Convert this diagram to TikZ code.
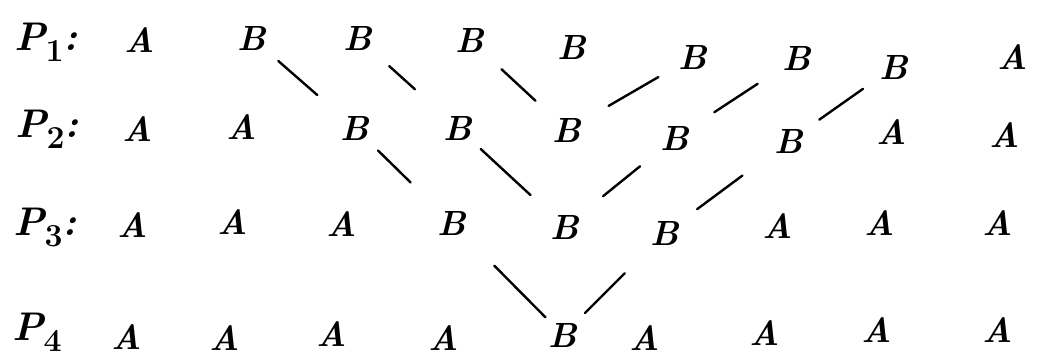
\documentclass[tikz,border=0pt]{standalone}
\usepackage{fontspec}
\newcommand{\lsub}[1]{\raisebox{-11pt}{\fontsize{32}{32}\selectfont\upshape #1}}
\begin{document}
\begin{tikzpicture}[x=1pt,y=1pt,
  ltr/.style={inner sep=0pt, font=\fontsize{35}{35}\selectfont\bfseries\itshape},
  lbl/.style={inner sep=0pt, font=\fontsize{40}{40}\selectfont\bfseries\itshape},
  conn/.style={line width=2.4pt, line cap=round}]
\useasboundingbox (0,0) rectangle (1057,-363);
% labels
\node[lbl] (p1) at (46,-42) {P\lsub{1}:};
\node[lbl] (p2) at (47,-129) {P\lsub{2}:};
\node[lbl] (p3) at (45,-227) {P\lsub{3}:};
\node[lbl] (p4) at (37,-332) {P\lsub{4}};
% row 1
\node[ltr] (r1c1) at (140,-40) {A};
\node[ltr] (r1c2) at (252,-38) {B};
\node[ltr] (r1c3) at (358,-38) {B};
\node[ltr] (r1c4) at (470,-40) {B};
\node[ltr] (r1c5) at (572,-47) {B};
\node[ltr] (r1c6) at (693,-57) {B};
\node[ltr] (r1c7) at (797,-58) {B};
\node[ltr] (r1c8) at (894,-67) {B};
\node[ltr] (r1c9) at (1013,-57) {A};
% row 2
\node[ltr] (r2c1) at (138,-129) {A};
\node[ltr] (r2c2) at (242,-127) {A};
\node[ltr] (r2c3) at (355,-128) {B};
\node[ltr] (r2c4) at (458,-128) {B};
\node[ltr] (r2c5) at (567,-130) {B};
\node[ltr] (r2c6) at (675,-138) {B};
\node[ltr] (r2c7) at (789,-141) {B};
\node[ltr] (r2c8) at (892,-132) {A};
\node[ltr] (r2c9) at (1005,-135) {A};
% row 3
\node[ltr] (r3c1) at (133,-225) {A};
\node[ltr] (r3c2) at (233,-222) {A};
\node[ltr] (r3c3) at (342,-224) {A};
\node[ltr] (r3c4) at (452,-223) {B};
\node[ltr] (r3c5) at (565,-227) {B};
\node[ltr] (r3c6) at (665,-233) {B};
\node[ltr] (r3c7) at (778,-226) {A};
\node[ltr] (r3c8) at (880,-223) {A};
\node[ltr] (r3c9) at (998,-223) {A};
% row 4
\node[ltr] (r4c1) at (127,-337) {A};
\node[ltr] (r4c2) at (225,-338) {A};
\node[ltr] (r4c3) at (332,-334) {A};
\node[ltr] (r4c4) at (444,-338) {A};
\node[ltr] (r4c5) at (563,-335) {B};
\node[ltr] (r4c6) at (645,-338) {A};
\node[ltr] (r4c7) at (765,-333) {A};
\node[ltr] (r4c8) at (877,-330) {A};
\node[ltr] (r4c9) at (998,-330) {A};
% connectors row1-row2
\draw[conn, shorten <=35pt, shorten >=50pt] (r1c2.center) -- (r2c3.center);
\draw[conn, shorten <=42pt, shorten >=58pt] (r1c3.center) -- (r2c4.center);
\draw[conn, shorten <=43pt, shorten >=43pt] (r1c4.center) -- (r2c5.center);
\draw[conn, shorten <=48pt, shorten >=40pt] (r2c5.center) -- (r1c6.center);
\draw[conn, shorten <=47pt, shorten >=47pt] (r2c6.center) -- (r1c7.center);
\draw[conn, shorten <=37pt, shorten >=38pt] (r2c7.center) -- (r1c8.center);
% row2-row3
\draw[conn, shorten <=32pt, shorten >=58pt] (r2c3.center) -- (r3c4.center);
\draw[conn, shorten <=31pt, shorten >=47pt] (r2c4.center) -- (r3c5.center);
\draw[conn, shorten <=49pt, shorten >=45pt] (r3c5.center) -- (r2c6.center);
\draw[conn, shorten <=40pt, shorten >=58pt] (r3c6.center) -- (r2c7.center);
% row3-row4
\draw[conn, shorten <=60pt, shorten >=25pt] (r3c4.center) -- (r4c5.center);
\draw[conn, shorten <=31pt, shorten >=57pt] (r4c5.center) -- (r3c6.center);
\end{tikzpicture}
\end{document}
